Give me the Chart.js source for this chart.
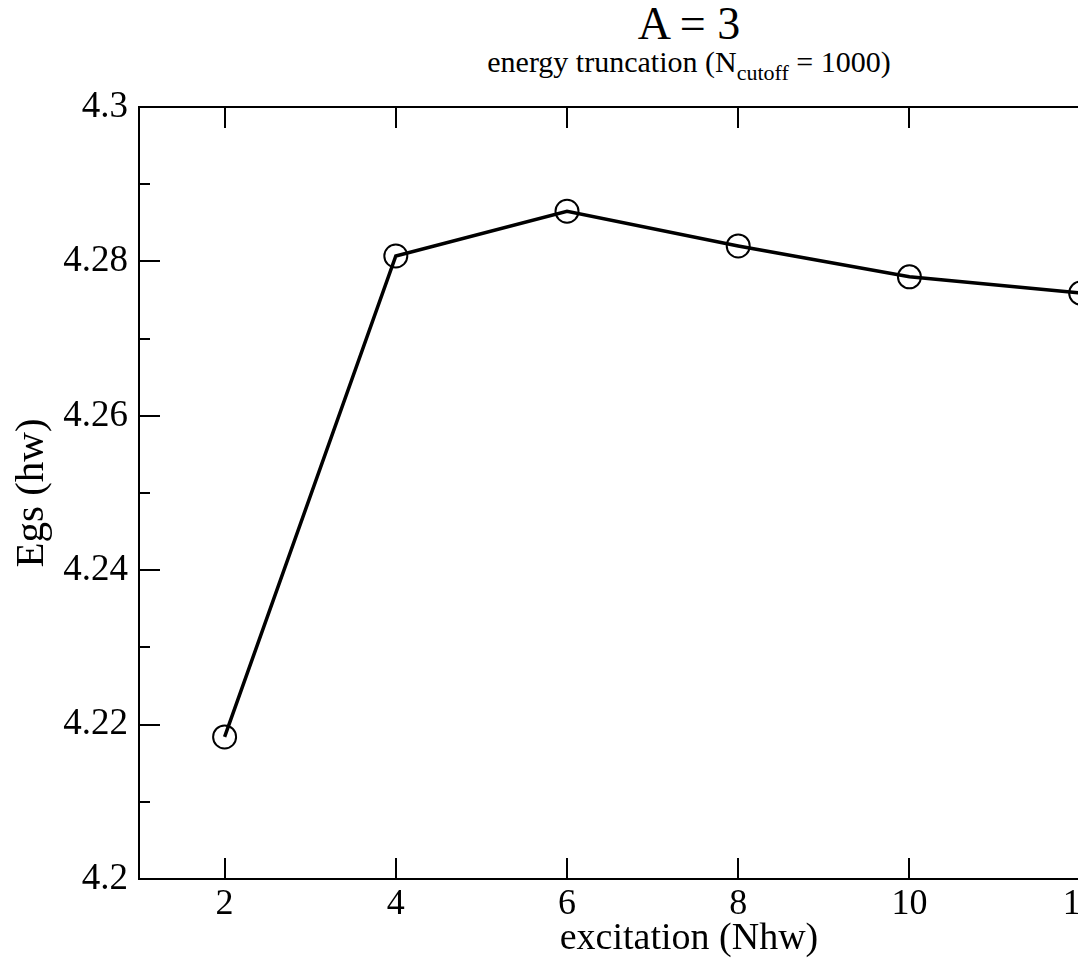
<!DOCTYPE html>
<html>
<head>
<meta charset="utf-8">
<script src="https://cdn.jsdelivr.net/npm/chart.js@4.4.1/dist/chart.umd.min.js"></script>
<style>
    html, body { margin: 0; padding: 0; background: #fff; overflow: hidden; }
    body { width: 1078px; height: 965px; position: relative; font-family: "Liberation Serif", serif; }
    #wrap { position: absolute; left: 0; top: 0; width: 1314px; height: 965px; }
    .title { position: absolute; left: 389px; width: 600px; text-align: center; color: #000; white-space: nowrap; line-height: 1; }
    #t1 { top: 1px; font-size: 46px; }
    #t2 { top: 47px; font-size: 30px; }
    #t2 sub { font-size: 22px; vertical-align: -8px; line-height: 0; }
</style>
</head>
<body>
<div class="title" id="t1">A = 3</div>
<div class="title" id="t2">energy truncation (N<sub>cutoff</sub> = 1000)</div>
<div id="wrap"><canvas id="myChart"></canvas></div>
<script>
// excitation (Nhw) vs ground state energy
let excitation = [2, 4, 6, 8, 10, 12];
let energy = [4.2184, 4.2807, 4.2865, 4.2820, 4.2780, 4.2759];

let xTicks = [2, 4, 6, 8, 10, 12];
let yTicks = [4.2, 4.22, 4.24, 4.26, 4.28, 4.3];
let yMinor = [4.21, 4.23, 4.25, 4.27, 4.29];

const points = excitation.map((x, i) => ({ x: x, y: energy[i] }));

// ticks inside the frame, like xmgrace
const frameTicks = {
    id: 'frameTicks',
    afterDraw(chart) {
        const ctx = chart.ctx;
        const a = chart.chartArea;
        const xs = chart.scales.x;
        const ys = chart.scales.y;
        ctx.save();
        ctx.strokeStyle = '#000';
        ctx.lineWidth = 2;
        ctx.strokeRect(a.left, a.top, a.right - a.left, a.bottom - a.top);
        ctx.beginPath();
        xTicks.forEach(v => {
            const px = Math.round(xs.getPixelForValue(v));
            ctx.moveTo(px, a.bottom); ctx.lineTo(px, a.bottom - 21);
            ctx.moveTo(px, a.top); ctx.lineTo(px, a.top + 21);
        });
        yTicks.forEach(v => {
            const py = Math.round(ys.getPixelForValue(v));
            ctx.moveTo(a.left, py); ctx.lineTo(a.left + 21, py);
            ctx.moveTo(a.right, py); ctx.lineTo(a.right - 21, py);
        });
        yMinor.forEach(v => {
            const py = Math.round(ys.getPixelForValue(v));
            ctx.moveTo(a.left, py); ctx.lineTo(a.left + 11, py);
            ctx.moveTo(a.right, py); ctx.lineTo(a.right - 11, py);
        });
        ctx.stroke();
        ctx.restore();
    }
};

const config = {
    type: 'scatter',
    data: {
        datasets: [{
            data: points,
            showLine: true,
            borderColor: '#000',
            borderWidth: 3.5,
            pointRadius: 11.5,
            pointBorderWidth: 2,
            pointBackgroundColor: 'rgba(0,0,0,0)',
            pointBorderColor: '#000',
            clip: false
        }]
    },
    options: {
        responsive: true,
        maintainAspectRatio: false,
        animation: false,
        layout: { padding: { left: 0, top: 107, right: 75, bottom: 0 } },
        plugins: { legend: { display: false }, tooltip: { enabled: false } },
        scales: {
            x: {
                type: 'linear',
                min: 1,
                max: 13.85,
                afterBuildTicks: s => { s.ticks = xTicks.map(v => ({ value: v })); },
                afterFit: s => { s.height = 86; },
                grid: { display: false, drawTicks: false },
                border: { display: false },
                ticks: {
                    color: '#000',
                    padding: 4,
                    maxRotation: 0,
                    font: { family: 'Liberation Serif', size: 36 }
                },
                title: {
                    display: true,
                    text: 'excitation (Nhw)',
                    color: '#000',
                    padding: { top: 0, bottom: 3 },
                    font: { family: 'Liberation Serif', size: 38 }
                }
            },
            y: {
                type: 'linear',
                min: 4.2,
                max: 4.3,
                afterBuildTicks: s => { s.ticks = yTicks.map(v => ({ value: v })); },
                afterFit: s => { s.width = 139; },
                grid: { display: false, drawTicks: false },
                border: { display: false },
                ticks: {
                    color: '#000',
                    padding: 11,
                    font: { family: 'Liberation Serif', size: 37 },
                    callback: v => Number(v.toFixed(2)).toString()
                },
                title: {
                    display: true,
                    text: 'Egs (hw)',
                    color: '#000',
                    padding: { top: 8, bottom: 0 },
                    font: { family: 'Liberation Serif', size: 41 }
                }
            }
        }
    },
    plugins: [frameTicks]
};

var myChart = new Chart(document.getElementById('myChart'), config);
</script>
</body>
</html>
